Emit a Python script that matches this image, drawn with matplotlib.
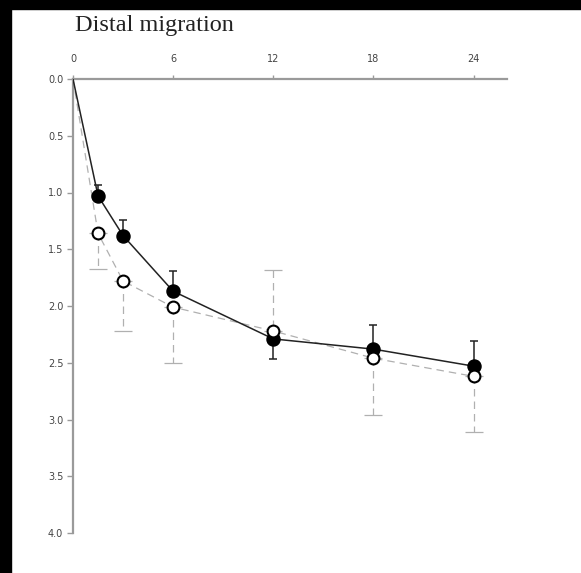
"""Distal migration over time, two groups"""
import matplotlib
matplotlib.use("Agg")
import matplotlib.pyplot as plt
import numpy as np

# months after surgery
months = [0, 1.5, 3, 6, 12, 18, 24]

# filled group: mean and one-sided error (up = toward 0, down = toward 4)
filled_mean = [0.0, 1.03, 1.38, 1.87, 2.29, 2.38, 2.53]
filled_err_up = [0.0, 0.10, 0.14, 0.18, 0.0, 0.21, 0.22]
filled_err_down = [0.0, 0.0, 0.0, 0.0, 0.18, 0.0, 0.0]

# open group
open_mean = [0.0, 1.36, 1.78, 2.01, 2.22, 2.46, 2.62]
open_err_up = [0.0, 0.0, 0.0, 0.0, 0.54, 0.0, 0.0]
open_err_down = [0.0, 0.31, 0.44, 0.49, 0.0, 0.50, 0.49]

xticks = [0, 6, 12, 18, 24]
yticks = [0.0, 0.5, 1.0, 1.5, 2.0, 2.5, 3.0, 3.5, 4.0]

fig = plt.figure(figsize=(5.81, 5.73), dpi=100, facecolor="w")
# black frame on left and top of the scanned figure
fig.patches.append(plt.Rectangle((0, 0), 11 / 581, 1, transform=fig.transFigure,
                                 color="k", zorder=0))
fig.patches.append(plt.Rectangle((0, 1 - 9 / 573), 1, 9 / 573, transform=fig.transFigure,
                                 color="k", zorder=0))

ax = fig.add_axes([73 / 581, 1 - 533 / 573, (507 - 73) / 581, (533 - 79) / 573])
ax.set_xlim(0, 26)
ax.set_ylim(4, 0)

x = np.array(months[1:])

# open symbols, dashed gray
eb = ax.errorbar(x, open_mean[1:], yerr=[open_err_up[1:], open_err_down[1:]],
                 fmt="none", ecolor="#b0b0b0", elinewidth=0.9, capsize=6.5,
                 capthick=0.9, zorder=2)
eb[2][0].set_linestyle((0, (6, 4)))
ax.plot(months, open_mean, color="#b0b0b0", lw=0.9, ls=(0, (6, 4)), zorder=2)

# filled symbols, solid black
ax.errorbar(x, filled_mean[1:], yerr=[filled_err_up[1:], filled_err_down[1:]],
            fmt="none", ecolor="#222222", elinewidth=1.1, capsize=3,
            capthick=1.1, zorder=3)
ax.plot(months, filled_mean, color="#222222", lw=1.1, zorder=3)
ax.plot(x, filled_mean[1:], "o", ms=9.4, mfc="black", mec="black", zorder=4)
ax.plot(x, open_mean[1:], "o", ms=8.5, mfc="white", mec="black", mew=1.5, zorder=5)

for s in ["right", "bottom"]:
    ax.spines[s].set_visible(False)
for s in ["left", "top"]:
    ax.spines[s].set_color("#9a9a9a")
    ax.spines[s].set_linewidth(1.6)

ax.xaxis.tick_top()
ax.set_xticks(xticks)
ax.set_xticklabels([str(t) for t in xticks])
ax.set_yticks(yticks)
ax.set_yticklabels([f"{t:.1f}" for t in yticks])
ax.tick_params(axis="x", direction="out", length=3, width=1, color="#9a9a9a",
               pad=8, labelsize=7, labelcolor="#444444")
ax.tick_params(axis="y", direction="out", length=4, width=1, color="#9a9a9a",
               pad=3, labelsize=7, labelcolor="#444444")

fig.text(75 / 581, 1 - 31 / 573, "Distal migration", family="Liberation Serif",
         fontsize=17.5, color="#222222", ha="left", va="baseline")

plt.savefig("out.png", dpi=100, facecolor="w")
